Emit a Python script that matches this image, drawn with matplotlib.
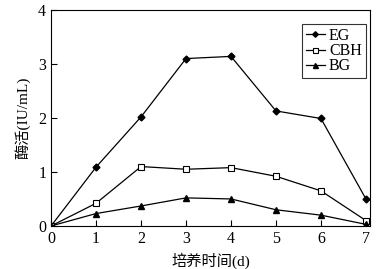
import matplotlib
matplotlib.use("Agg")
import matplotlib.pyplot as plt

days = [0, 1, 2, 3, 4, 5, 6, 7]
eg = [0.0, 1.09, 2.02, 3.10, 3.14, 2.13, 1.99, 0.50]
cbh = [0.0, 0.42, 1.10, 1.05, 1.08, 0.92, 0.65, 0.10]
bg = [0.0, 0.23, 0.37, 0.52, 0.50, 0.30, 0.20, 0.03]
xlabel = "培养时间(d)"
ylabel = "酶活(IU/mL)"

plt.rcParams['font.family'] = ['Liberation Serif', 'Noto Sans CJK SC']
fig = plt.figure(figsize=(3.87, 2.69), dpi=100)
ax = fig.add_axes([0.132, 0.160, 0.824, 0.803])

ax.plot(days, eg, color='black', lw=0.9, marker='D', ms=3.5, mfc='black', label='EG')
ax.plot(days, cbh, color='black', lw=0.9, marker='s', ms=4.5, mfc='white', mew=0.8, label='CBH')
ax.plot(days, bg, color='black', lw=0.9, marker='^', ms=4.5, mfc='black', label='BG')

ax.set_xlim(0, 7.09)
ax.set_ylim(0, 4)
ax.set_xticks(days)
ax.set_yticks([0, 1, 2, 3, 4])
ax.tick_params(direction='in', length=4, width=0.8, labelsize=11.5, top=False, right=False)
for s in ax.spines.values():
    s.set_linewidth(0.8)
ax.set_xlabel(xlabel, fontsize=11, labelpad=4)
ax.set_ylabel(ylabel, fontsize=11, labelpad=6)
leg = ax.legend(loc='upper right', bbox_to_anchor=(0.987, 0.935), fontsize=11.5, frameon=True,
                fancybox=False, edgecolor='black', handlelength=1.2, handletextpad=0.25,
                labelspacing=-0.05, borderpad=0.25, borderaxespad=0.0, markerscale=0.8)
leg.get_frame().set_linewidth(0.8)

fig.savefig("out.png", dpi=100)
